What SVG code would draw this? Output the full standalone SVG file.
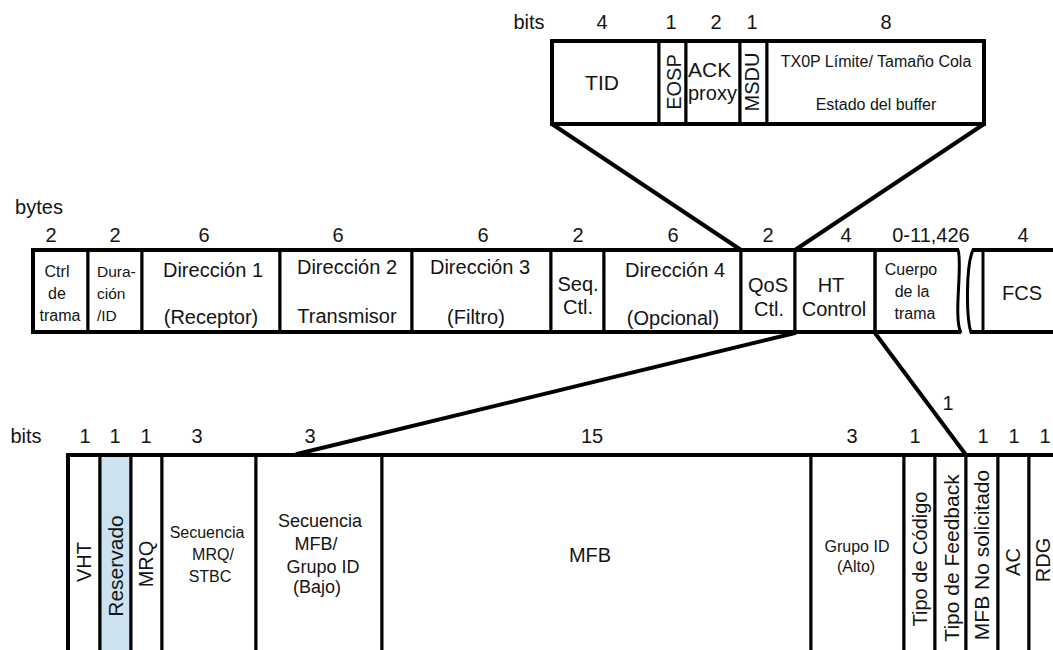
<svg xmlns="http://www.w3.org/2000/svg" width="1053" height="650" viewBox="0 0 1053 650">
<style>
text{font-family:"Liberation Sans",Arial,Helvetica,sans-serif;fill:#141414}
.c{text-anchor:middle}
.box{fill:#fff;stroke:#000;stroke-width:3}
.dv{stroke:#000;stroke-width:3;fill:none}
.ob{stroke:#000;stroke-width:4;fill:none}
.ln{stroke:#000;stroke-width:4;fill:none;stroke-linecap:round}
.lab{font-size:20px;text-anchor:middle}
.s15{font-size:15.5px}
.s16{font-size:16px}
.s18{font-size:18px}
.s20{font-size:20px}
.s21{font-size:21px}
.rsv{fill:#cce2ee;stroke:#000;stroke-width:3}
</style>
<rect width="1053" height="650" fill="#fff"/>

<!-- labels -->
<g id="labels-top">
<text x="529" y="29" class="lab">bits</text>
<text x="602" y="29" class="lab">4</text>
<text x="671" y="29" class="lab">1</text>
<text x="716" y="29" class="lab">2</text>
<text x="752" y="29" class="lab">1</text>
<text x="886" y="29" class="lab">8</text>
</g>
<g id="labels-mid">
<text x="39" y="214" class="lab">bytes</text>
<text x="51" y="242" class="lab">2</text>
<text x="115" y="242" class="lab">2</text>
<text x="204" y="242" class="lab">6</text>
<text x="338" y="242" class="lab">6</text>
<text x="483" y="242" class="lab">6</text>
<text x="578" y="242" class="lab">2</text>
<text x="673" y="242" class="lab">6</text>
<text x="768" y="242" class="lab">2</text>
<text x="846" y="242" class="lab">4</text>
<text x="931" y="242" class="lab">0-11,426</text>
<text x="1023" y="242" class="lab">4</text>
</g>
<g id="labels-bot">
<text x="26" y="443" class="lab">bits</text>
<text x="85" y="443" class="lab">1</text>
<text x="115" y="443" class="lab">1</text>
<text x="146" y="443" class="lab">1</text>
<text x="197" y="443" class="lab">3</text>
<text x="310" y="443" class="lab">3</text>
<text x="592" y="443" class="lab">15</text>
<text x="852" y="443" class="lab">3</text>
<text x="915" y="443" class="lab">1</text>
<text x="948" y="410" class="lab">1</text>
<text x="983" y="443" class="lab">1</text>
<text x="1014" y="443" class="lab">1</text>
<text x="1045" y="443" class="lab">1</text>
</g>

<!-- top row: QoS control bits -->
<g id="top-row">
<g id="f-tid"><rect class="box" x="552" y="41" width="107" height="83"/><text x="602" y="90" class="c s21">TID</text></g>
<g id="f-eosp"><rect class="box" x="659" y="41" width="27" height="83"/><text transform="translate(674,82) rotate(-90)" x="0" y="7" class="c s20">EOSP</text></g>
<g id="f-ack"><rect class="box" x="686" y="41" width="54" height="83"/><text x="688" y="77" class="s21">ACK</text><text x="688" y="100" class="s20">proxy</text></g>
<g id="f-msdu"><rect class="box" x="740" y="41" width="27" height="83"/><text transform="translate(752,82) rotate(-90)" x="0" y="7" class="c s20">MSDU</text></g>
<g id="f-txop"><rect class="box" x="767" y="41" width="217" height="83"/><text x="876" y="67" class="c s16">TX0P Límite/ Tamaño Cola</text><text x="876" y="110" class="c s16">Estado del buffer</text></g>
<rect class="ob" x="552" y="41" width="432" height="83"/>
</g>

<!-- middle row: MAC frame -->
<g id="mid-row">
<g id="m-ctrl"><rect class="box" x="33" y="250" width="55" height="82"/><text x="57" y="277" class="c s16">Ctrl</text><text x="57" y="299" class="c s16">de</text><text x="60" y="321" class="c s16">trama</text></g>
<g id="m-dur"><rect class="box" x="88" y="250" width="54" height="82"/><text x="97" y="277" class="s15">Dura-</text><text x="97" y="299" class="s15">ción</text><text x="97" y="321" class="s15">/ID</text></g>
<g id="m-dir1"><rect class="box" x="142" y="250" width="138" height="82"/><text x="213" y="277" class="c s20">Dirección 1</text><text x="211" y="324" class="c s20">(Receptor)</text></g>
<g id="m-dir2"><rect class="box" x="280" y="250" width="132" height="82"/><text x="347" y="274" class="c s20">Dirección 2</text><text x="347" y="323" class="c s20">Transmisor</text></g>
<g id="m-dir3"><rect class="box" x="412" y="250" width="139" height="82"/><text x="480" y="274" class="c s20">Dirección 3</text><text x="476" y="324" class="c s20">(Filtro)</text></g>
<g id="m-seq"><rect class="box" x="551" y="250" width="53" height="82"/><text x="578" y="291" class="c s20">Seq.</text><text x="578" y="314" class="c s20">Ctl.</text></g>
<g id="m-dir4"><rect class="box" x="604" y="250" width="137" height="82"/><text x="675" y="277" class="c s20">Dirección 4</text><text x="673" y="325" class="c s20">(Opcional)</text></g>
<g id="m-qos"><rect class="box" x="741" y="250" width="54" height="82"/><text x="768" y="292" class="c s20">QoS</text><text x="769" y="316" class="c s20">Ctl.</text></g>
<g id="m-ht"><rect class="box" x="795" y="250" width="80" height="82"/><text x="831" y="292" class="c s20">HT</text><text x="834" y="316" class="c s20">Control</text></g>
<g id="m-body">
<path class="dv" d="M875,250 H959 M875,332 H961 M875,250 V332"/>
<path class="dv" d="M958,250 C963,263 953,318 961,333"/>
<text x="911" y="275" class="c s16">Cuerpo</text><text x="912" y="297" class="c s16">de la</text><text x="915" y="319" class="c s16">trama</text>
</g>
<g id="m-break">
<path class="dv" d="M973,250 C966,265 966,316 971,333"/>
<path class="dv" d="M972,250 H1056 M970,332 H1056"/>
</g>
<g id="m-fcs"><path class="dv" d="M983,250 V332"/><text x="1022" y="300" class="c s20">FCS</text></g>
<path class="ob" d="M875,250 H959 M875,332 H961 M972,250 H1056 M970,332 H1056"/>
<path class="ob" d="M959,250 H33 V332 H961"/>
</g>

<!-- bottom row: HT control bits -->
<g id="bot-row">
<g id="b-vht"><rect class="box" x="68" y="455" width="32" height="210"/><text transform="translate(84,562) rotate(-90)" x="0" y="7" class="c s20">VHT</text></g>
<g id="b-res"><rect class="rsv" x="100" y="455" width="31" height="210"/><text transform="translate(116,566) rotate(-90)" x="0" y="7" class="c s21">Reservado</text></g>
<g id="b-mrq"><rect class="box" x="131" y="455" width="31" height="210"/><text transform="translate(146,564) rotate(-90)" x="0" y="7" class="c s20">MRQ</text></g>
<g id="b-seqmrq"><rect class="box" x="162" y="455" width="94" height="210"/><text x="207" y="538" class="c s16">Secuencia</text><text x="213" y="560" class="c s16">MRQ/</text><text x="210" y="582" class="c s16">STBC</text></g>
<g id="b-seqmfb"><rect class="box" x="256" y="455" width="126" height="210"/><text x="320" y="527" class="c s18">Secuencia</text><text x="316" y="550" class="c s18">MFB/</text><text x="323" y="573" class="c s18">Grupo ID</text><text x="317" y="593" class="c s18">(Bajo)</text></g>
<g id="b-mfb"><rect class="box" x="382" y="455" width="429" height="210"/><text x="590" y="562" class="c s20">MFB</text></g>
<g id="b-gid"><rect class="box" x="811" y="455" width="93" height="210"/><text x="857" y="552" class="c s16">Grupo ID</text><text x="856" y="572" class="c s16">(Alto)</text></g>
<g id="b-tcod"><rect class="box" x="904" y="455" width="31" height="210"/><text transform="translate(920,559) rotate(-90)" x="0" y="7" class="c s20">Tipo de Código</text></g>
<g id="b-tfb"><rect class="box" x="935" y="455" width="31" height="210"/><text transform="translate(952,558) rotate(-90)" x="0" y="7" class="c s21">Tipo de Feedback</text></g>
<g id="b-unsol"><rect class="box" x="966" y="455" width="32" height="210"/><text transform="translate(982,555) rotate(-90)" x="0" y="7" class="c s21">MFB No solicitado</text></g>
<g id="b-ac"><rect class="box" x="998" y="455" width="31" height="210"/><text transform="translate(1013,562) rotate(-90)" x="0" y="7" class="c s20">AC</text></g>
<g id="b-rdg"><rect class="box" x="1029" y="455" width="40" height="210"/><text transform="translate(1043,560) rotate(-90)" x="0" y="7" class="c s20">RDG</text></g>
<path class="ob" d="M68,660 V455 H1060"/>
</g>

<!-- connectors -->
<g id="connectors">
<line class="ln" x1="552" y1="124" x2="741" y2="250"/>
<line class="ln" x1="984" y1="124" x2="795" y2="250"/>
<line class="ln" x1="795" y1="333" x2="297" y2="454"/>
<line class="ln" x1="875" y1="333" x2="966" y2="455"/>
</g>
</svg>
